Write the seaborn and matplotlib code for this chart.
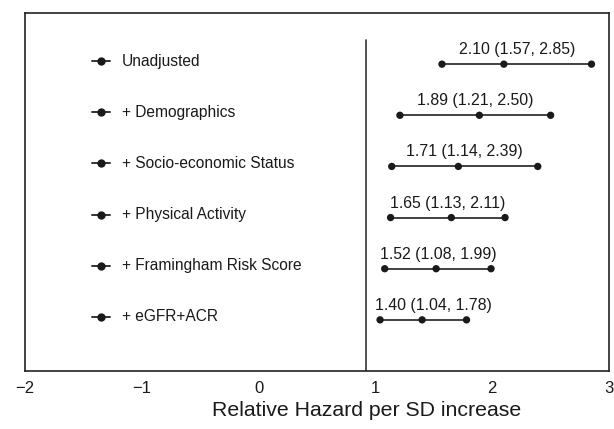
import matplotlib
matplotlib.use("Agg")
import matplotlib.pyplot as plt
import pandas as pd
import seaborn as sns

# Values
models = ["Unadjusted", "+ Demographics", "+ Socio-economic Status",
          "+ Physical Activity", "+ Framingham Risk Score", "+ eGFR+ACR"]
estimate = [2.10, 1.89, 1.71, 1.65, 1.52, 1.40]
lower = [1.57, 1.21, 1.14, 1.13, 1.08, 1.04]
upper = [2.85, 2.50, 2.39, 2.11, 1.99, 1.78]
x_ticks = [-2, -1, 0, 1, 2, 3]

sns.set_style("white")
plt.rcParams['font.family'] = ['Liberation Sans', 'DejaVu Sans']

df = pd.DataFrame({"model": models, "estimate": estimate,
                   "lower": lower, "upper": upper})
df["row"] = list(range(len(df), 0, -1))
long = df.melt(id_vars=["model", "row"], value_vars=["lower", "estimate", "upper"],
               value_name="hr")

fig = plt.figure(figsize=(6.14, 4.29), dpi=100)
ax = fig.add_axes([25 / 614, 1 - 371 / 429, 584 / 614, 358 / 429])

ink = "#1a1a1a"

# confidence interval lines and dots
ax.hlines(df["row"], df["lower"], df["upper"], color="#333333", lw=1.3, zorder=2)
sns.scatterplot(data=long, x="hr", y="row", color=ink, s=28, edgecolor="none",
                ax=ax, zorder=3, legend=False)

# reference line
ax.axvline(0.92, ymax=6.47 / 7, color="#333333", lw=1.2)

# left-hand key with model names
for _, r in df.iterrows():
    ky = r["row"] + 0.06
    ax.plot([-1.43, -1.27], [ky, ky], color="#333333", lw=1.4)
    ax.plot([-1.35], [ky], "o", color=ink, ms=6, mec="none")
    ax.text(-1.17, ky, r["model"], va="center", ha="left",
            fontsize=11.2, color=ink)

# estimate labels above each interval
labels = []
for _, r in df.iterrows():
    mid = (r["lower"] + r["upper"]) / 2
    t = ax.annotate(f"{r['estimate']:.2f} ({r['lower']:.2f}, {r['upper']:.2f})",
                    (mid, r["row"]), xytext=(0, 5), textcoords="offset points",
                    ha="center", va="bottom", fontsize=11.4, color=ink)
    labels.append(t)

ax.set_xlim(-2, 3)
ax.set_ylim(0, 7)
ax.set_xticks(x_ticks)
ax.set_yticks([])
ax.tick_params(axis="x", length=0, pad=7, labelsize=12, colors=ink)
ax.set_xlabel("Relative Hazard per SD increase", fontsize=15.3, color=ink)
ax.xaxis.set_label_coords((367 - 25) / 584, -0.085)
ax.set_ylabel("")
for s in ax.spines.values():
    s.set_visible(True)
    s.set_color("#222222")
    s.set_linewidth(1.2)

# keep labels clear of the reference line
fig.canvas.draw()
inv = ax.transData.inverted()
for t in labels:
    bb = t.get_window_extent()
    left = inv.transform((bb.x0, bb.y0))[0]
    if left < 1.0:
        x, y = t.xy
        t.xy = (x + (1.0 - left), y)

fig.savefig("out.png", dpi=100)
